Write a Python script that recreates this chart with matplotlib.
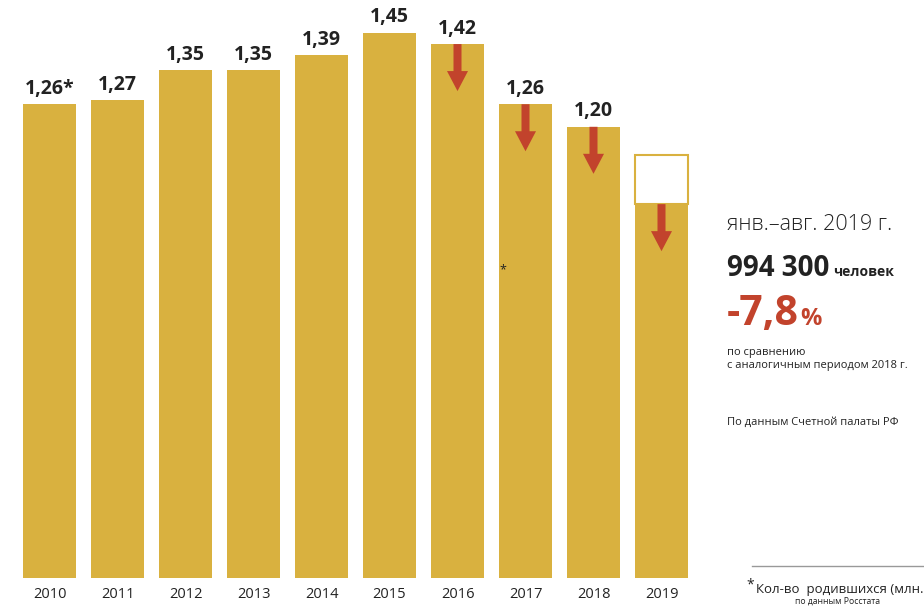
import matplotlib
matplotlib.use("Agg")
import matplotlib.pyplot as plt
from matplotlib.patches import FancyArrow, Rectangle

years = ["2010", "2011", "2012", "2013", "2014", "2015", "2016", "2017", "2018", "2019"]
values = [1.26, 1.27, 1.35, 1.35, 1.39, 1.45, 1.42, 1.26, 1.20, 0.9943]
labels = ["1,26*", "1,27", "1,35", "1,35", "1,39", "1,45", "1,42", "1,26", "1,20", ""]
decline = [False, False, False, False, False, False, True, True, True, True]
outline_2019 = 1.125

BAR = "#D9B13F"
RED = "#C2432C"
TXT = "#222222"
FONT = "Open Sans"

W, H = 924, 606
fig = plt.figure(figsize=(W / 100, H / 100), dpi=100)
ax = fig.add_axes([0, 0, 1, 1])
ax.axis("off")

pxu = 376.0      # pixels per unit
base = 578.0     # baseline pixel (from top)
x0 = 49.5        # first bar centre pixel
dx = 68.0        # spacing pixel
ax.set_xlim(-x0 / dx, (W - x0) / dx)
ax.set_ylim(-(H - base) / pxu, base / pxu)

xs = list(range(len(years)))
bw = 53 / dx
ax.bar(xs, values, width=bw, color=BAR, zorder=2)

# 2019 outline box
ax.add_patch(Rectangle((xs[-1] - bw / 2, values[-1]), bw, outline_2019 - values[-1],
                       facecolor="white", edgecolor=BAR, lw=1.5, zorder=2))

for x, v, lab, y in zip(xs, values, labels, years):
    if lab:
        ax.annotate(lab, (x, v), xytext=(0, 4), textcoords="offset points",
                    ha="center", va="bottom", fontsize=14, fontweight="bold",
                    color=TXT, family=FONT, fontstretch="normal")
    ax.text(x, -16 / pxu, y, ha="center", va="center", fontsize=10.5,
            color=TXT, family=FONT, fontstretch="normal")

for x, v, d in zip(xs, values, decline):
    if d:
        ax.add_patch(FancyArrow(x, v, 0, -47 / pxu, width=8 / dx, head_width=21 / dx,
                                head_length=20 / pxu, length_includes_head=True,
                                color=RED, lw=0, zorder=3))

def ft(xp, yp, s, **kw):
    kw.setdefault("family", FONT)
    kw.setdefault("color", TXT)
    kw.setdefault("fontstretch", "normal")
    return fig.text(xp / W, 1 - yp / H, s, va="baseline", ha="left", **kw)

ft(499, 273, "*", fontsize=9)
ft(727, 230, "янв.–авг. 2019 г.", fontsize=15.5, fontweight="light")
ft(727, 276, "994 300", fontsize=20, fontweight="bold")
ft(833, 276, "человек", fontsize=10, fontweight="bold")
ft(727, 325, "-7,8", fontsize=29.5, fontweight="bold", color=RED)
ft(800, 325, "%", fontsize=17, fontweight="bold", color=RED)
ft(727, 355, "по сравнению", fontsize=8)
ft(727, 368, "с аналогичным периодом 2018 г.", fontsize=8)
ft(727, 425, "По данным Счетной палаты РФ", fontsize=8)

fig.add_artist(plt.Line2D([752 / W, 1], [1 - 566 / H, 1 - 566 / H], color="#999999", lw=1))
ft(746, 588, "*", fontsize=10)
ft(756, 593, "Кол-во  родившихся (млн.", fontsize=9.5)
ft(795, 604, "по данным Росстата", fontsize=6.2)

fig.savefig("out.png", dpi=100)
